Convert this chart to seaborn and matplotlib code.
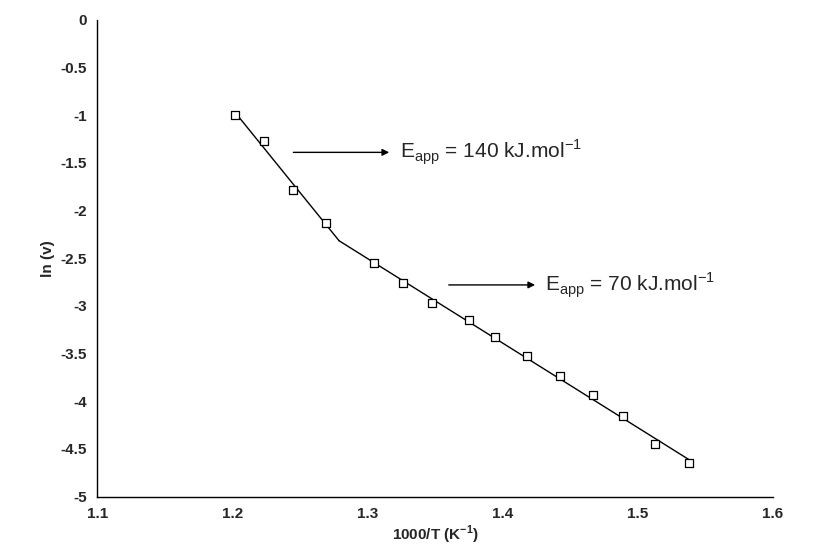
import numpy as np
import matplotlib
matplotlib.use("Agg")
import matplotlib.pyplot as plt
import seaborn as sns

x_hi = [1.202, 1.223, 1.245, 1.269]
y_hi = [-1.0, -1.27, -1.78, -2.13]
x_lo = [1.305, 1.326, 1.348, 1.375, 1.394, 1.418, 1.442, 1.467, 1.489, 1.513, 1.538]
y_lo = [-2.55, -2.76, -2.97, -3.15, -3.33, -3.53, -3.73, -3.93, -4.15, -4.45, -4.65]

sns.set_style("white")
plt.rcParams['font.family'] = ['Liberation Sans', 'DejaVu Sans']
plt.rcParams['axes.unicode_minus'] = False
fig, ax = plt.subplots(figsize=(8.25, 5.5), dpi=100)
fig.subplots_adjust(left=0.118, right=0.937, top=0.964, bottom=0.097)

# fitted trend lines for the two regimes, joined where they cross
p1 = np.polyfit(x_hi, y_hi, 1)
p2 = np.polyfit(x_lo, y_lo, 1)
xc = (p2[1] - p1[1]) / (p1[0] - p2[0])
xs1 = np.array([x_hi[0], xc])
xs2 = np.array([xc, x_lo[-1]])
sns.lineplot(x=xs1, y=np.polyval(p1, xs1), color="black", lw=1, ax=ax)
sns.lineplot(x=xs2, y=np.polyval(p2, xs2), color="black", lw=1, ax=ax)

sns.scatterplot(x=x_hi + x_lo, y=y_hi + y_lo, marker="s", s=28,
                facecolor="white", edgecolor="black", linewidth=0.9, ax=ax, zorder=3)

ax.annotate("", xy=(1.318, -1.39), xytext=(1.243, -1.39),
            arrowprops=dict(arrowstyle="-|>", color="black", lw=1))
ax.text(1.324, -1.39, r"E$_{\mathregular{app}}$ = 140 kJ.mol$^{\mathregular{-1}}$",
        fontsize=15, va="center")
ax.annotate("", xy=(1.426, -2.78), xytext=(1.358, -2.78),
            arrowprops=dict(arrowstyle="-|>", color="black", lw=1))
ax.text(1.431, -2.78, r"E$_{\mathregular{app}}$ = 70 kJ.mol$^{\mathregular{-1}}$",
        fontsize=15, va="center")

ax.set_xlim(1.1, 1.6)
ax.set_ylim(-5, 0)
ax.set_xticks(np.arange(1.1, 1.61, 0.1))
ax.set_xticklabels(["1.1", "1.2", "1.3", "1.4", "1.5", "1.6"])
ax.set_yticks(np.arange(-5, 0.01, 0.5))
ax.set_yticklabels(["-5", "-4.5", "-4", "-3.5", "-3", "-2.5", "-2", "-1.5", "-1", "-0.5", "0"])
ax.tick_params(axis="both", labelsize=11, direction="out", length=4, width=1)
for lbl in ax.get_xticklabels() + ax.get_yticklabels():
    lbl.set_fontweight("bold")
ax.set_xlabel(r"1000/T (K$^{\mathregular{-1}}$)", fontsize=11, fontweight="bold", labelpad=2)
ax.set_ylabel("ln (v)", fontsize=11, fontweight="bold")
for s in ["top", "right"]:
    ax.spines[s].set_visible(False)
for s in ["left", "bottom"]:
    ax.spines[s].set_color("black")
    ax.spines[s].set_linewidth(1)

fig.savefig("out.png")
